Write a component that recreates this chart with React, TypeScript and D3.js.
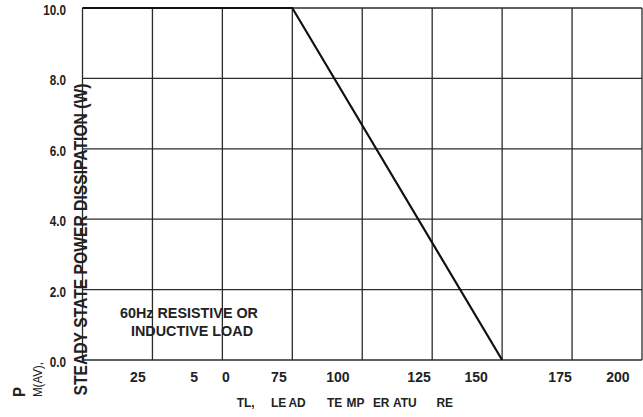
import React, { useEffect, useRef } from 'react';
import * as d3 from 'd3';

// derating curve: lead temperature (°C) vs power (W)
const tempPoints = [0, 75, 150];
const powerPoints = [10, 10, 0];

const xGrid = [0, 25, 50, 75, 100, 125, 150, 175, 200];
const yGrid = [0, 2, 4, 6, 8, 10];
const yTickLabels = ['0.0', '2.0', '4.0', '6.0', '8.0', '10.0'];

// x tick labels as printed, with where they sit on the temperature scale
const xTickLabels = ['25', '5', '0', '75', '100', '125', '150', '175', '200'];
const xTickAt = [19.8, 39.9, 51.3, 70.2, 91.3, 120.3, 140.7, 170.7, 191.4];

// the x title is printed broken up into pieces
const xTitleParts = ['TL,', 'LE', 'AD', 'TE', 'MP', 'ER', 'ATU', 'RE'];
const xTitleAt = [55.1, 67.4, 73.6, 87.4, 94.4, 103.8, 111.0, 126.5];

const yTitle = 'STEADY STATE POWER DISSIPATION (W)';
const noteLines = ['60Hz RESISTIVE OR', 'INDUCTIVE LOAD'];

const FONT = '"Liberation Sans", Arial, sans-serif';
const INK = '#222';

const App = () => {
    const ref = useRef<SVGSVGElement | null>(null);

    useEffect(() => {
        const svg = d3.select(ref.current);
        svg.selectAll('*').remove();

        const W = 643, H = 417;
        const margin = { top: 8, right: 1, bottom: 57, left: 82.5 };

        const x = d3.scaleLinear().domain([0, 200]).range([margin.left, W - margin.right]);
        const y = d3.scaleLinear().domain([0, 10]).range([H - margin.bottom, margin.top]);

        // grid
        svg.append('g')
            .selectAll('line')
            .data(xGrid)
            .enter().append('line')
            .attr('x1', d => x(d)).attr('x2', d => x(d))
            .attr('y1', y(0)).attr('y2', y(10))
            .attr('stroke', '#2b2b2b')
            .attr('stroke-width', 1.3);

        svg.append('g')
            .selectAll('line')
            .data(yGrid)
            .enter().append('line')
            .attr('x1', x(0)).attr('x2', x(200))
            .attr('y1', d => y(d)).attr('y2', d => y(d))
            .attr('stroke', '#2b2b2b')
            .attr('stroke-width', 1.3);

        // curve
        const line = d3.line<number>()
            .x(d => x(d))
            .y((d, i) => y(powerPoints[i]));

        svg.append('path')
            .datum(tempPoints)
            .attr('fill', 'none')
            .attr('stroke', '#111')
            .attr('stroke-width', 2.2)
            .attr('d', line);

        // y tick labels (narrow bold)
        svg.append('g')
            .selectAll('text')
            .data(yGrid)
            .enter().append('text')
            .attr('transform', d => `translate(66,${y(d) + 3}) scale(0.78,1)`)
            .attr('dominant-baseline', 'middle')
            .attr('text-anchor', 'end')
            .attr('font-family', FONT)
            .attr('font-weight', 'bold')
            .attr('font-size', 15)
            .attr('fill', INK)
            .text((d, i) => yTickLabels[i]);

        // x tick labels
        svg.append('g')
            .selectAll('text')
            .data(xTickLabels)
            .enter().append('text')
            .attr('x', (d, i) => x(xTickAt[i]))
            .attr('y', 382)
            .attr('text-anchor', 'middle')
            .attr('font-family', FONT)
            .attr('font-weight', 'bold')
            .attr('font-size', 14)
            .attr('fill', INK)
            .text(d => d);

        // x title pieces
        svg.append('g')
            .selectAll('text')
            .data(xTitleParts)
            .enter().append('text')
            .attr('transform', (d, i) => `translate(${x(xTitleAt[i])},407) scale(0.92,1)`)
            .attr('font-family', FONT)
            .attr('font-weight', 'bold')
            .attr('font-size', 13)
            .attr('fill', INK)
            .text(d => d);

        // y title, rotated, sitting over the left border
        svg.append('text')
            .attr('transform', 'translate(86.5,239.5) rotate(-90)')
            .attr('text-anchor', 'middle')
            .attr('font-family', FONT)
            .attr('font-weight', 'bold')
            .attr('font-size', 19)
            .attr('fill', INK)
            .attr('textLength', 312)
            .attr('lengthAdjust', 'spacingAndGlyphs')
            .text(yTitle);

        // P M(AV),
        const pm = svg.append('g').attr('transform', 'translate(25,397) rotate(-90)');
        pm.append('text')
            .attr('x', 0).attr('y', 0)
            .attr('font-family', FONT)
            .attr('font-weight', 'bold')
            .attr('font-size', 17)
            .attr('fill', INK)
            .attr('textLength', 10)
            .attr('lengthAdjust', 'spacingAndGlyphs')
            .text('P');
        pm.append('text')
            .attr('x', 0).attr('y', 16.5)
            .attr('font-family', FONT)
            .attr('font-size', 13)
            .attr('fill', INK)
            .attr('textLength', 35)
            .attr('lengthAdjust', 'spacingAndGlyphs')
            .text('M(AV),');

        // note
        const note = svg.append('g')
            .attr('font-family', FONT)
            .attr('font-weight', 'bold')
            .attr('font-size', 15)
            .attr('fill', INK);
        note.append('text')
            .attr('x', 120).attr('y', 318)
            .attr('textLength', 138)
            .attr('lengthAdjust', 'spacingAndGlyphs')
            .text(noteLines[0]);
        note.append('text')
            .attr('x', 131).attr('y', 336)
            .attr('textLength', 122)
            .attr('lengthAdjust', 'spacingAndGlyphs')
            .text(noteLines[1]);
    }, []);

    return (
        <svg
            ref={ref}
            width={643}
            height={417}
            style={{ position: 'absolute', left: 0, top: 0, background: '#fff' }}
        />
    );
};

export default App;
